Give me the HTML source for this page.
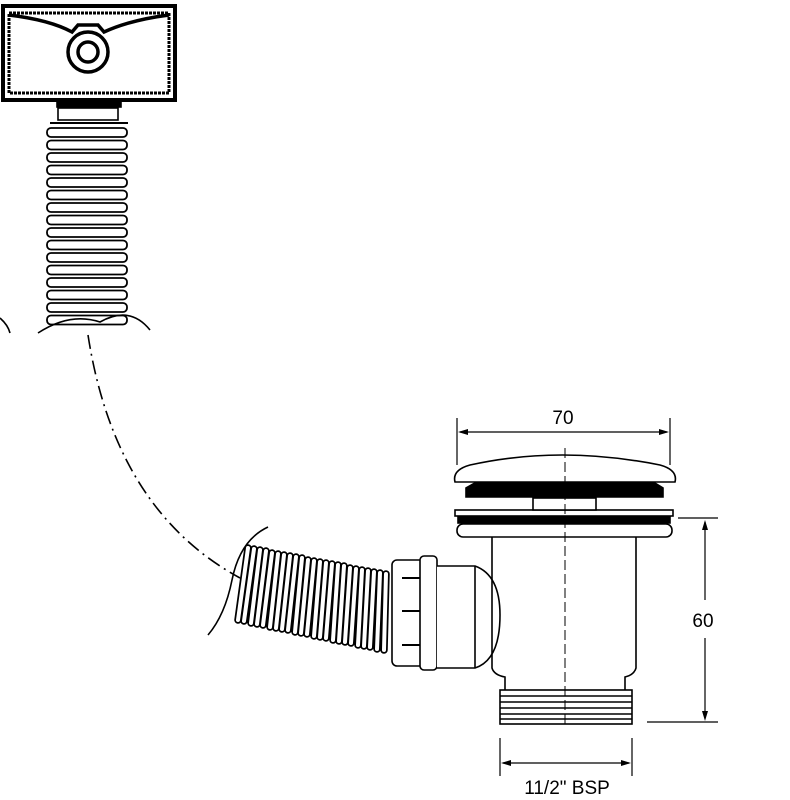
<!DOCTYPE html>
<html><head><style>html,body{margin:0;padding:0;background:#fff;width:790px;height:800px;overflow:hidden}</style></head>
<body>
<svg width="790" height="800" viewBox="0 0 790 800" xmlns="http://www.w3.org/2000/svg" font-family="Liberation Sans, Arial, sans-serif">
<g fill="none" stroke="#000" stroke-width="1.6">
<!-- top-left box -->
<rect x="3" y="6" width="172" height="94" stroke-width="4"/>
<rect x="9" y="13" width="160" height="80" stroke-width="3" stroke-dasharray="3 1"/>
<path d="M9 15 Q50 20 72 32 L78 25 L98 25 L104 32 Q130 20 169 15" stroke-width="3.5"/>
<circle cx="88" cy="52" r="20" stroke-width="3.5"/>
<circle cx="88" cy="52" r="10" stroke-width="3.5"/>
<rect x="57" y="102" width="64" height="5" fill="#000"/>
<rect x="58" y="108" width="60" height="12"/>
<line x1="50" y1="123" x2="128" y2="123" stroke-width="2"/>
<!-- vertical hose -->
<g fill="#fff" stroke-width="1.8">
<rect x="47" y="128" width="80" height="9" rx="4"/><rect x="47" y="140.5" width="80" height="9" rx="4"/>
<rect x="47" y="153" width="80" height="9" rx="4"/><rect x="47" y="165.5" width="80" height="9" rx="4"/>
<rect x="47" y="178" width="80" height="9" rx="4"/><rect x="47" y="190.5" width="80" height="9" rx="4"/>
<rect x="47" y="203" width="80" height="9" rx="4"/><rect x="47" y="215.5" width="80" height="9" rx="4"/>
<rect x="47" y="228" width="80" height="9" rx="4"/><rect x="47" y="240.5" width="80" height="9" rx="4"/>
<rect x="47" y="253" width="80" height="9" rx="4"/><rect x="47" y="265.5" width="80" height="9" rx="4"/>
<rect x="47" y="278" width="80" height="9" rx="4"/><rect x="47" y="290.5" width="80" height="9" rx="4"/>
<rect x="47" y="303" width="80" height="9" rx="4"/><rect x="47" y="315.5" width="80" height="9" rx="4"/>
</g>
<path d="M38 333 Q70 312 100 322 Q130 305 150 330"/>
<path d="M0 318 Q8 325 10 333"/>
<!-- dash-dot path -->
<path d="M88 335 Q115 510 240 578" stroke-dasharray="14 5 2 5"/>
<path d="M268 527 Q240 540 232 580 Q225 615 208 635"/>
<!-- slanted hose ribs -->
<g stroke-linecap="round">
<g stroke-width="7.5">
<path d="M248 548L238 620M254 549L244 621M260 550L251 623M266 551L257 624M272 553L263 625M278 554L270 627M284 555L276 628M290 556L282 629M296 557L288 630M302 558L295 632M308 560L301 633M314 561L307 634M320 562L314 636M326 563L320 637M332 564L326 638M338 565L333 640M344 566L339 641M350 568L345 642M356 569L351 643M362 570L358 645M368 571L364 646M374 572L370 647M380 573L377 649M386 574L384 650"/>
</g>
<g stroke-width="4" stroke="#fff">
<path d="M248 548L238 620M254 549L244 621M260 550L251 623M266 551L257 624M272 553L263 625M278 554L270 627M284 555L276 628M290 556L282 629M296 557L288 630M302 558L295 632M308 560L301 633M314 561L307 634M320 562L314 636M326 563L320 637M332 564L326 638M338 565L333 640M344 566L339 641M350 568L345 642M356 569L351 643M362 570L358 645M368 571L364 646M374 572L370 647M380 573L377 649M386 574L384 650"/>
</g>
</g>
<!-- nut -->
<rect x="392" y="560" width="32" height="106" rx="5" fill="#fff"/>
<rect x="420" y="556" width="17" height="114" rx="4" fill="#fff"/>
<line x1="402" y1="578" x2="420" y2="578" stroke-width="2"/><line x1="402" y1="611" x2="420" y2="611" stroke-width="2"/><line x1="402" y1="645" x2="420" y2="645" stroke-width="2"/>
<path d="M437 566 L475 566 Q500 575 500 615 Q500 660 475 668 L437 668" fill="#fff"/>
<line x1="475" y1="566" x2="475" y2="668"/>
<!-- body -->
<path d="M492 537 L492 668 Q494 675 505 677 L505 690 M636 537 L636 668 Q634 675 625 677 L625 690"/>
<rect x="500" y="690" width="132" height="34" fill="#fff"/>
<path d="M500 696H632M500 702H632M500 708H632M500 714H632M500 719H632"/>
<rect x="457" y="524" width="215" height="13" rx="6" fill="#fff"/>
<rect x="458" y="517" width="212" height="6" fill="#000"/>
<rect x="455" y="510" width="218" height="6" fill="#fff"/>
<rect x="533" y="498" width="63" height="12" fill="#fff"/>
<path d="M466 497 L466 488 L480 480 L650 480 L663 488 L663 497 Z" fill="#000"/>
<path d="M455 482 Q452 470 470 465 Q560 445 660 465 Q678 470 675 482 Z" fill="#fff"/>
<line x1="565" y1="448" x2="565" y2="728" stroke-width="1" stroke-dasharray="10 4"/>
<!-- dimensions -->
<g stroke-width="1.2">
<line x1="457" y1="418" x2="457" y2="465"/><line x1="670" y1="418" x2="670" y2="465"/>
<line x1="460" y1="432" x2="667" y2="432"/>
<line x1="678" y1="518" x2="718" y2="518"/><line x1="647" y1="722" x2="718" y2="722"/>
<line x1="705" y1="522" x2="705" y2="600"/><line x1="705" y1="638" x2="705" y2="718"/>
<line x1="500" y1="738" x2="500" y2="776"/><line x1="632" y1="738" x2="632" y2="776"/>
<line x1="503" y1="763" x2="629" y2="763"/>
</g>
</g>
<g fill="#000">
<path d="M458 432 L468 429 L468 435 Z"/><path d="M669 432 L659 429 L659 435 Z"/>
<path d="M705 520 L702 530 L708 530 Z"/><path d="M705 721 L702 711 L708 711 Z"/>
<path d="M501 763 L511 760 L511 766 Z"/><path d="M631 763 L621 760 L621 766 Z"/>
</g>
<g font-size="19" fill="#000" text-anchor="middle">
<text x="563" y="424">70</text>
<text x="703" y="627">60</text>
<text x="567" y="794">11/2" BSP</text>
</g>
</svg>
</body></html>
